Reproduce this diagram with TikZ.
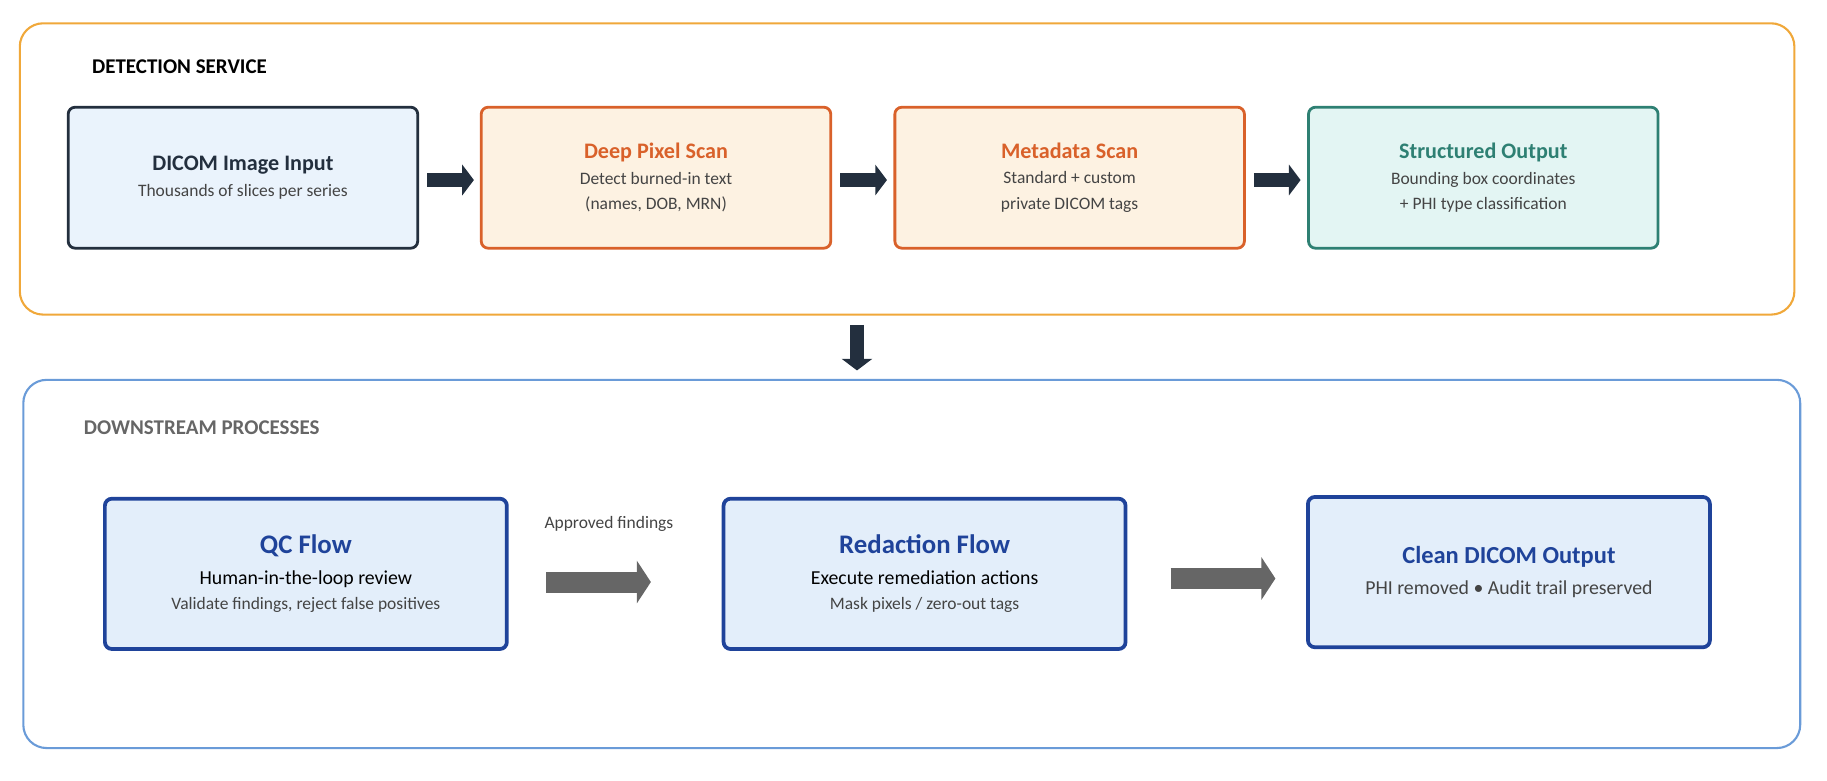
\documentclass[tikz,border=0pt]{standalone}
\usepackage{fontspec}
\setmainfont{Carlito}
\usetikzlibrary{arrows.meta}
\definecolor{dk}{HTML}{232F3E}
\definecolor{orb}{HTML}{F0A83A}
\definecolor{blb}{HTML}{6A9BD8}
\definecolor{inf}{HTML}{EAF3FC}
\definecolor{orf}{HTML}{FDF2E2}
\definecolor{orl}{HTML}{D9612A}
\definecolor{grf}{HTML}{E3F5F3}
\definecolor{grl}{HTML}{2E8073}
\definecolor{buf}{HTML}{E3EEFA}
\definecolor{bul}{HTML}{1F439A}
\definecolor{gt}{HTML}{444444}
\definecolor{ga}{HTML}{666666}
\newcommand\myttl{\bfseries\fontsize{9.5}{11}\selectfont}
\newcommand\mysub{\fontsize{7.5}{10}\selectfont\color{gt}}
\begin{document}
\begin{tikzpicture}[x=0.5pt,y=-0.5pt,
 sect/.style={draw, line width=0.9pt, rounded corners=10pt},
 topbox/.style={draw, line width=1.2pt, rounded corners=3pt, minimum width=150pt, minimum height=60.5pt, align=center, inner sep=0pt},
 botbox/.style={draw=bul, fill=buf, line width=1.6pt, rounded corners=3pt, minimum width=172.5pt, minimum height=64.5pt, align=center, inner sep=0pt},
 darr/.style={draw=dk, line width=6pt, -{Triangle[length=5pt,width=13pt]}},
 garr/.style={draw=ga, line width=9pt, -{Triangle[length=6pt,width=18pt]}}]
\useasboundingbox (0,0) rectangle (1568,670);
\node[sect, draw=orb, minimum width=761.5pt, minimum height=125pt] (s1) at (778.5,145) {};
\node[sect, draw=blb, minimum width=762.5pt, minimum height=158pt] (s2) at (782.5,484) {};
\node[anchor=west, font=\bfseries\fontsize{9}{11}\selectfont] (t1) at (72,57) {DETECTION SERVICE};
\node[anchor=west, font=\bfseries\fontsize{9}{11}\selectfont, text=ga] (t2) at (65,367) {DOWNSTREAM PROCESSES};

\node[topbox, draw=dk, fill=inf] (a) at (208.5,152.5) {{\myttl\color{dk}DICOM Image Input}\\[-1pt]{\mysub Thousands of slices per series}};
\node[topbox, draw=orl, fill=orf] (b) at (563,152.5) {{\myttl\color{orl}Deep Pixel Scan}\\[-1pt]{\mysub Detect burned-in text}\\[-1pt]{\mysub (names, DOB, MRN)}};
\node[topbox, draw=orl, fill=orf] (c) at (918,152.5) {{\myttl\color{orl}Metadata Scan}\\[-1pt]{\mysub Standard + custom}\\[-1pt]{\mysub private DICOM tags}};
\node[topbox, draw=grl, fill=grf] (d) at (1273,152.5) {{\myttl\color{grl}Structured Output}\\[-1pt]{\mysub Bounding box coordinates}\\[-1pt]{\mysub + PHI type classification}};
\draw[darr] (a.east)++(7,2) -- ++(40,0);
\draw[darr] (b.east)++(7,2) -- ++(40,0);
\draw[darr] (c.east)++(7,2) -- ++(40,0);
\draw[darr] (s1.south)++(-43,8) -- ++(0,39);

\node[botbox] (q) at (262.5,492.5) {{\bfseries\fontsize{11.5}{13}\selectfont\color{bul}QC Flow}\\[1pt]{\fontsize{8.5}{10}\selectfont Human-in-the-loop review}\\[-1pt]{\mysub Validate findings, reject false positives}};
\node[botbox] (r) at (793.5,492.5) {{\bfseries\fontsize{11.5}{13}\selectfont\color{bul}Redaction Flow}\\[1pt]{\fontsize{8.5}{10}\selectfont Execute remediation actions}\\[-1pt]{\mysub Mask pixels / zero-out tags}};
\node[botbox] (o) at (1295,491) {{\bfseries\fontsize{10.5}{13}\selectfont\color{bul}Clean DICOM Output}\\[1pt]{\fontsize{8.5}{10}\selectfont\color{gt} PHI removed • Audit trail preserved}};
\draw[garr] (q.east)++(32,7) -- ++(90,0) node[pos=0.6, above=14pt, font=\fontsize{7.5}{9}\selectfont, text=gt] (lab) {Approved findings};
\draw[garr] (r.east)++(37,4) -- ++(90,0);
\end{tikzpicture}
\end{document}
